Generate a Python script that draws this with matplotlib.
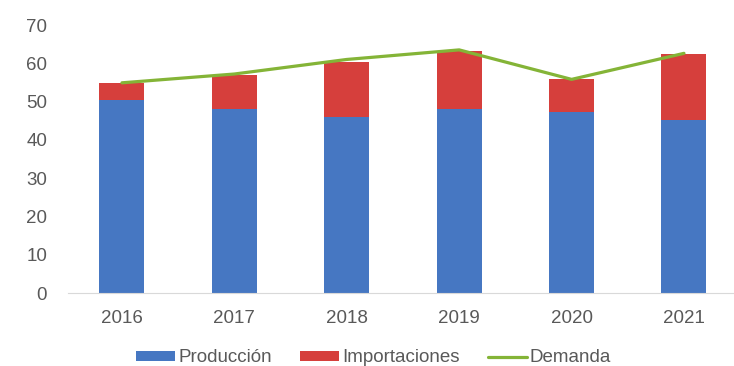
import matplotlib
matplotlib.use("Agg")
import matplotlib.pyplot as plt
import numpy as np

plt.rcParams['font.family'] = ['Liberation Sans', 'DejaVu Sans']

years = ["2016", "2017", "2018", "2019", "2020", "2021"]
produccion = [50.4, 48.0, 45.9, 48.0, 47.3, 45.2]
importaciones = [4.5, 8.9, 14.5, 15.3, 8.5, 17.2]
demanda = [54.9, 57.2, 61.0, 63.5, 55.8, 62.6]

c_prod = "#4677c2"
c_imp = "#d63f3c"
c_dem = "#84b437"
c_text = "#595959"
fs = 13.5

fig = plt.figure(figsize=(7.34, 3.66), dpi=100)
ax = fig.add_axes([68 / 734, 1 - 293 / 366, 1 - 68 / 734, (293 - 25) / 366])

x = np.arange(len(years))
w = 0.4
h_prod = ax.bar(x, produccion, width=w, color=c_prod, label="Producción", zorder=2)
h_imp = ax.bar(x, importaciones, width=w, bottom=produccion, color=c_imp,
               label="Importaciones", zorder=2)
h_dem, = ax.plot(x, demanda, color=c_dem, lw=2.3, label="Demanda", zorder=3,
                 solid_joinstyle="round", solid_capstyle="round")

ax.set_xlim(-0.48, 5.445)
ax.set_ylim(0, 70)
ax.set_yticks(range(0, 71, 10))
ax.set_xticks(x)
ax.set_xticklabels(years)
ax.tick_params(axis="both", length=0, labelsize=fs, labelcolor=c_text)
ax.tick_params(axis="y", pad=15)
ax.tick_params(axis="x", pad=12)
for s in ["top", "right", "left"]:
    ax.spines[s].set_visible(False)
ax.spines["bottom"].set_color("#d9d9d9")
ax.spines["bottom"].set_linewidth(0.8)

leg = fig.legend(handles=[h_prod, h_imp, h_dem],
                 labels=["Producción", "Importaciones", "Demanda"],
                 loc="center", bbox_to_anchor=(0.509, 1 - 358 / 366),
                 ncol=3, frameon=False, fontsize=fs, handlelength=2.1,
                 handleheight=0.4, handletextpad=0.15, columnspacing=1.5)
for t in leg.get_texts():
    t.set_color(c_text)

fig.savefig("out.png", dpi=100)
